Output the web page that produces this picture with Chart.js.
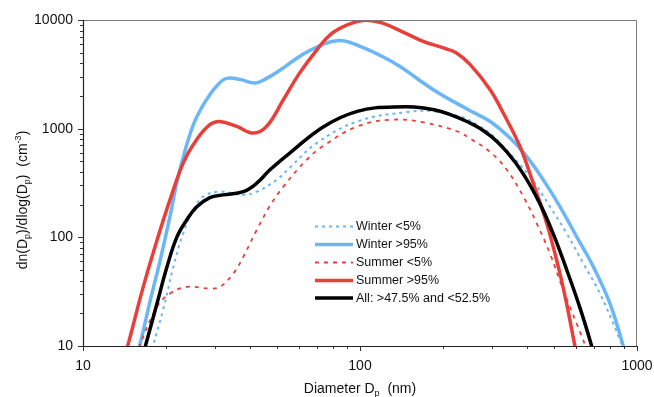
<!DOCTYPE html>
<html>
<head>
<meta charset="utf-8">
<script src="https://cdn.jsdelivr.net/npm/chart.js@4.4.1/dist/chart.umd.min.js"></script>
<style>
html,body{margin:0;padding:0;background:#fff;}
#wrap{width:654px;height:397px;position:relative;}
</style>
</head>
<body>
<div id="wrap"><canvas id="c" width="654" height="397"></canvas></div>
<script>
// ---- Data (diameter in nm, dN/dlogDp in cm^-3) ----
const winterLowD  = [17.5, 17.9, 19.5, 21.2, 23.0, 25.0, 27.2, 31.2, 37.9, 42.4, 50.0, 55.9, 69.8, 97.8, 148, 185, 237, 264, 296, 329, 411, 485, 557, 640, 735, 821, 868, 885, 900];
const winterLowV  = [8, 10, 22, 53.5, 109, 178, 237, 263, 246, 263, 338, 440, 737, 1165, 1422, 1442, 1260, 1090, 900, 685, 362, 192, 109, 57.5, 30.4, 16.1, 11.3, 10, 8];

const winterHighD = [15.5, 16.0, 17.5, 19.0, 20.6, 21.8, 23.4, 25.0, 26.8, 28.5, 30.5, 33, 37, 41.8, 46, 51.4, 65, 83.5, 100, 120, 139, 184, 246, 295, 348, 400, 459, 527, 606, 696, 799, 892, 910];
const winterHighV = [8, 10, 26.4, 61.8, 155, 315, 639, 1080, 1560, 2000, 2500, 2900, 2830, 2635, 2900, 3444, 5150, 6470, 5730, 4635, 3750, 2285, 1494, 1165, 819, 554, 338, 192, 101, 53.5, 24.6, 10, 8];

const summerLowD  = [15.6, 16.0, 18.5, 20.6, 23.7, 28.7, 31.2, 34.9, 37.9, 42.4, 47.3, 52.9, 64.2, 74.1, 97.8, 129, 170, 225, 250, 295, 339, 389, 434, 485, 542, 640, 650, 665];
const summerLowV  = [8, 10, 22.9, 30.4, 35, 33.8, 35, 46.5, 66.2, 117, 195, 293, 517, 700, 1048, 1208, 1141, 942, 810, 610, 418, 237, 135, 71, 32.6, 11.3, 10, 8];

const summerHighD = [14.0, 14.5, 16.5, 18.5, 20.6, 23.0, 25.7, 28.7, 31.2, 35.9, 41.2, 46.0, 52.9, 60, 70, 78, 90, 104, 120, 145, 169, 200, 223, 250, 295, 329, 378, 422, 472, 520, 557, 597, 610];
const summerHighV = [7.5, 10, 35, 94, 221, 482, 790, 1087, 1165, 1048, 910, 1048, 1848, 3143, 5345, 7300, 9000, 9950, 9420, 7620, 6370, 5530, 4980, 3886, 2285, 1393, 685, 315, 135, 53.5, 24.6, 10, 8];

const allMidD = [16.4, 16.8, 18.5, 20.1, 21.8, 23.7, 25.7, 28.7, 32.1, 37.9, 42.4, 47.3, 55.9, 74.1, 97.8, 132, 185, 250, 295, 339, 389, 447, 499, 557, 623, 686, 700];
const allMidV = [8, 10, 24.6, 53.5, 100, 145, 190, 232, 246, 263, 315, 418, 600, 1048, 1442, 1582, 1494, 1126, 864, 611, 382, 202, 107, 50.6, 22.3, 10, 8];

const seriesNames = ['Winter <5%', 'Winter >95%', 'Summer <5%', 'Summer >95%', 'All: >47.5% and <52.5%'];
const yTickValues = [10, 100, 1000, 10000];
const xTickValues = [10, 100, 1000];

const BLUE = '#6bb6f6';
const RED = '#e7403b';

function pts(d, v){ return d.map((x,i)=>({x:x, y:v[i]})); }

const styles = [
  {color: BLUE, width: 2, dash: [3,4]},
  {color: BLUE, width: 3.5, dash: []},
  {color: RED, width: 1.8, dash: [4,5]},
  {color: RED, width: 3.5, dash: []},
  {color: '#000000', width: 3.5, dash: []}
];
const dataSets = [
  pts(winterLowD, winterLowV),
  pts(winterHighD, winterHighV),
  pts(summerLowD, summerLowV),
  pts(summerHighD, summerHighV),
  pts(allMidD, allMidV)
];
const orders = [3, 4, 2, 1, 0];

const datasets = dataSets.map((d,i)=>({
  label: seriesNames[i],
  data: d,
  borderColor: styles[i].color,
  borderWidth: styles[i].width,
  borderDash: styles[i].dash,
  pointRadius: 0,
  fill: false,
  tension: 0.4,
  order: orders[i]
}));

function minorTicks(min, max){
  const out = [];
  for (let p = min; p < max; p *= 10) {
    for (let k = 1; k < 10; k++) out.push(p*k);
  }
  out.push(max);
  return out;
}

const decor = {
  id: 'decor',
  afterDraw(chart){
    const ctx = chart.ctx;
    const a = chart.chartArea;
    const xs = chart.scales.x, ys = chart.scales.y;
    ctx.save();
    // border: top/right gray
    ctx.strokeStyle = '#7a7a7a';
    ctx.lineWidth = 1;
    ctx.beginPath();
    ctx.moveTo(a.left, a.top + 0.5); ctx.lineTo(a.right - 0.5, a.top + 0.5); ctx.lineTo(a.right - 0.5, a.bottom);
    ctx.stroke();
    // left and bottom axes
    ctx.strokeStyle = '#222';
    ctx.lineWidth = 1.2;
    ctx.beginPath();
    ctx.moveTo(a.left + 0.5, a.top); ctx.lineTo(a.left + 0.5, a.bottom + 0.5); ctx.lineTo(a.right, a.bottom + 0.5);
    ctx.stroke();
    // ticks
    ctx.lineWidth = 1;
    ctx.strokeStyle = '#333';
    ctx.beginPath();
    minorTicks(10, 10000).forEach(v=>{
      const major = yTickValues.includes(v);
      const y = Math.round(ys.getPixelForValue(v)) + 0.5;
      ctx.moveTo(a.left, y); ctx.lineTo(a.left - (major ? 5 : 3), y);
    });
    minorTicks(10, 1000).forEach(v=>{
      const major = xTickValues.includes(v);
      const x = Math.round(xs.getPixelForValue(v)) + 0.5;
      ctx.moveTo(x, a.bottom); ctx.lineTo(x, a.bottom + (major ? 5 : 3));
    });
    ctx.stroke();

    // legend
    const lx0 = 315, lx1 = 353, tx = 356;
    const ly = [226.5, 244.5, 262.5, 280.5, 298];
    ctx.font = '12.5px "Liberation Sans", Arial, sans-serif';
    ctx.textBaseline = 'middle';
    ctx.textAlign = 'left';
    seriesNames.forEach((n,i)=>{
      ctx.strokeStyle = styles[i].color;
      ctx.lineWidth = styles[i].width;
      ctx.setLineDash(styles[i].dash);
      ctx.beginPath();
      ctx.moveTo(lx0, ly[i]); ctx.lineTo(lx1, ly[i]);
      ctx.stroke();
      ctx.setLineDash([]);
      ctx.fillStyle = '#111';
      ctx.fillText(n, tx, ly[i] + 0.5);
    });

    // x axis title with subscript
    ctx.fillStyle = '#111';
    const f = '14px "Liberation Sans", Arial, sans-serif';
    const fs = '9px "Liberation Sans", Arial, sans-serif';
    const parts = [['Diameter D', f, 0], ['p', fs, 3], ['  (nm)', f, 0]];
    ctx.textBaseline = 'alphabetic';
    let w = 0;
    parts.forEach(p=>{ ctx.font = p[1]; w += ctx.measureText(p[0]).width; });
    let x = 360 - w/2;
    const by = 393;
    parts.forEach(p=>{ ctx.font = p[1]; ctx.fillText(p[0], x, by + p[2]); x += ctx.measureText(p[0]).width; });

    // y axis title rotated
    const yparts = [['dn(D', f, 0], ['p', fs, 3], [')/dlog(D', f, 0], ['p', fs, 3], [')  (cm', f, 0], ['-3', fs, -6], [')', f, 0]];
    ctx.save();
    ctx.translate(22, 200);
    ctx.rotate(-Math.PI/2);
    w = 0;
    yparts.forEach(p=>{ ctx.font = p[1]; w += ctx.measureText(p[0]).width; });
    x = -w/2;
    yparts.forEach(p=>{ ctx.font = p[1]; ctx.fillText(p[0], x, 5 + p[2]); x += ctx.measureText(p[0]).width; });
    ctx.restore();

    ctx.restore();
  }
};

new Chart(document.getElementById('c'), {
  type: 'line',
  data: { datasets },
  options: {
    responsive: false,
    animation: false,
    devicePixelRatio: 1,
    layout: { padding: { left: 0, right: 17, top: 20, bottom: 0 } },
    plugins: { legend: { display: false }, tooltip: { enabled: false } },
    scales: {
      x: {
        type: 'logarithmic',
        min: 10, max: 1000,
        grid: { display: false, drawTicks: false },
        border: { display: false },
        afterBuildTicks: s => { s.ticks = xTickValues.map(v=>({value:v})); },
        afterFit: s => { s.height = 51; s.paddingLeft = 0; s.paddingRight = 0; },
        ticks: {
          padding: 12,
          maxRotation: 0,
          color: '#111',
          font: { family: '"Liberation Sans", Arial, sans-serif', size: 14 },
          callback: v => String(v)
        }
      },
      y: {
        type: 'logarithmic',
        min: 10, max: 10000,
        grid: { display: false, drawTicks: false },
        border: { display: false },
        afterBuildTicks: s => { s.ticks = yTickValues.map(v=>({value:v})); },
        afterFit: s => { s.width = 83; s.paddingTop = 0; s.paddingBottom = 0; },
        ticks: {
          padding: 10,
          color: '#111',
          font: { family: '"Liberation Sans", Arial, sans-serif', size: 14 },
          callback: v => String(v)
        }
      }
    }
  },
  plugins: [decor]
});
</script>
</body>
</html>
